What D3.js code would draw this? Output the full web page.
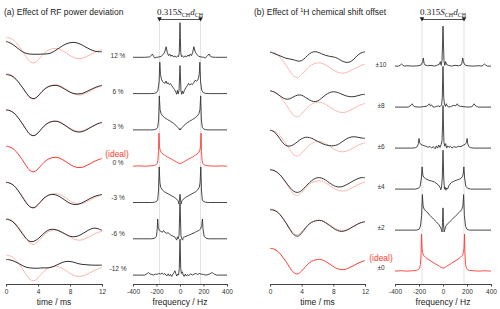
<!DOCTYPE html>
<html><head><meta charset="utf-8">
<script src="https://cdn.jsdelivr.net/npm/d3@7"></script>
<style>body{margin:0;background:#fff}svg{display:block;font-family:"Liberation Sans",Arial,sans-serif}</style>
</head><body><svg id="c" width="500" height="309"></svg>
<script>
// ---------- data ----------
const timeMs = [0,0.5,1,1.5,2,2.5,3,3.5,4,4.5,5,5.5,6,6.5,7,7.5,8,8.5,9,9.5,10,10.5,11,11.5,12];
const timeTicks = [0,4,8,12];
const freqTicks = [-400,-200,0,200,400];
const couplingHz = 175;

const fidIdeal = [1.0,0.95,0.8,0.52,0.18,-0.2,-0.52,-0.6,-0.42,-0.14,0.1,0.24,0.3,0.29,0.18,0.03,-0.14,-0.27,-0.33,-0.32,-0.22,-0.1,0.04,0.15,0.23];
const fidRf12 = [0.75,0.65,0.5,0.3,0.12,0.0,-0.05,-0.06,-0.06,-0.05,-0.04,0.0,0.12,0.28,0.45,0.58,0.66,0.68,0.63,0.52,0.38,0.25,0.15,0.1,0.1];
const fidRf6 = [0.94,0.9,0.76,0.5,0.17,-0.18,-0.48,-0.56,-0.4,-0.12,0.1,0.22,0.26,0.24,0.13,-0.02,-0.16,-0.25,-0.27,-0.24,-0.14,-0.02,0.1,0.2,0.27];
const fidRf3 = [1.0,0.95,0.8,0.52,0.17,-0.21,-0.53,-0.61,-0.44,-0.15,0.09,0.24,0.29,0.27,0.15,-0.01,-0.18,-0.32,-0.38,-0.36,-0.26,-0.12,0.02,0.14,0.21];
const fidRfm3 = [1.02,0.96,0.8,0.5,0.13,-0.25,-0.52,-0.57,-0.38,-0.1,0.12,0.24,0.25,0.17,0.02,-0.15,-0.3,-0.37,-0.36,-0.27,-0.14,0.0,0.12,0.2,0.25];
const fidRfm6 = [0.98,0.92,0.75,0.45,0.1,-0.22,-0.42,-0.4,-0.25,-0.02,0.2,0.33,0.34,0.27,0.15,0.02,-0.09,-0.12,-0.07,0.05,0.2,0.34,0.42,0.38,0.28];
const fidRfm12 = [0.73,0.7,0.62,0.5,0.36,0.25,0.2,0.18,0.18,0.2,0.2,0.22,0.3,0.42,0.53,0.6,0.6,0.55,0.47,0.42,0.4,0.38,0.37,0.37,0.37];

const fidCs10 = [0.98,0.9,0.8,0.7,0.6,0.55,0.5,0.42,0.45,0.65,0.88,1.0,0.98,0.88,0.78,0.72,0.68,0.6,0.45,0.35,0.35,0.5,0.75,0.93,1.0];
const fidCs8 = [1.02,0.95,0.8,0.62,0.5,0.52,0.65,0.75,0.74,0.6,0.45,0.35,0.38,0.55,0.75,0.9,0.96,0.92,0.82,0.72,0.66,0.65,0.7,0.77,0.8];
const fidCs6 = [1.02,0.92,0.65,0.3,0.06,0.02,0.12,0.3,0.48,0.57,0.55,0.45,0.32,0.2,0.1,0.05,0.04,0.1,0.25,0.42,0.55,0.6,0.58,0.53,0.5];
const fidCs4 = [1.0,0.95,0.8,0.55,0.22,-0.1,-0.35,-0.42,-0.3,-0.05,0.2,0.4,0.5,0.48,0.36,0.18,0.02,-0.07,-0.07,0.02,0.15,0.3,0.42,0.5,0.5];
const fidCs2 = [0.96,0.92,0.78,0.5,0.14,-0.26,-0.6,-0.7,-0.5,-0.18,0.08,0.22,0.28,0.27,0.15,-0.02,-0.2,-0.34,-0.4,-0.36,-0.25,-0.1,0.04,0.15,0.2];

const specIdeal = [[-400,0],[-350,0.01],[-300,0],[-250,0.01],[-220,0.02],[-205,0.04],[-195,0.08],[-188,0.18],[-183,0.45],[-179,1.0],[-175,0.62],[-170,0.5],[-160,0.42],[-145,0.37],[-125,0.32],[-100,0.27],[-75,0.22],[-50,0.17],[-30,0.13],[-15,0.1],[0,0.08],[15,0.1],[30,0.13],[50,0.17],[75,0.22],[100,0.27],[125,0.32],[145,0.37],[160,0.42],[170,0.5],[175,0.62],[179,1.0],[183,0.45],[188,0.18],[195,0.08],[205,0.04],[220,0.02],[250,0.01],[300,0],[350,0.01],[400,0]];
const specRf12 = [[-400,0],[-300,0],[-260,0.01],[-245,0.05],[-235,0.1],[-225,0.03],[-215,-0.02],[-200,0],[-180,0.01],[-160,0.03],[-145,0.08],[-130,0.16],[-118,0.32],[-108,0.15],[-98,0.05],[-88,0.1],[-78,0.03],[-68,0.07],[-55,0.01],[-42,0.04],[-30,0.0],[-20,0.04],[-12,0.02],[-6,0.15],[-3,0.6],[0,1.05],[3,0.6],[6,0.15],[12,0.02],[20,0.05],[30,0.0],[42,0.04],[55,0.01],[68,0.07],[78,0.03],[88,0.1],[98,0.05],[108,0.15],[118,0.32],[130,0.16],[145,0.08],[160,0.03],[180,0.01],[200,0],[215,-0.02],[230,0.03],[240,0.07],[248,0.1],[258,0.03],[270,0.01],[300,0],[400,0]];
const specRf6 = [[-400,0],[-240,0],[-215,0.01],[-200,0.03],[-188,0.1],[-178,0.35],[-172,0.95],[-166,0.58],[-158,0.44],[-148,0.36],[-138,0.33],[-128,0.31],[-118,0.38],[-110,0.3],[-100,0.33],[-90,0.27],[-80,0.3],[-70,0.24],[-58,0.18],[-46,0.12],[-36,0.05],[-28,-0.02],[-22,0.1],[-15,-0.01],[-8,0.1],[-4,0.5],[0,0.85],[4,0.5],[8,0.08],[15,-0.02],[21,0.08],[28,0.0],[38,0.1],[50,0.18],[62,0.24],[72,0.31],[82,0.26],[95,0.3],[105,0.27],[118,0.34],[128,0.4],[140,0.38],[150,0.4],[158,0.48],[164,0.6],[169,0.95],[175,0.35],[185,0.1],[198,0.03],[215,0.01],[240,0],[400,0]];
const specRf3 = [[-400,0],[-240,0],[-215,0.01],[-200,0.03],[-190,0.08],[-182,0.3],[-176,1.03],[-170,0.62],[-162,0.5],[-150,0.43],[-130,0.37],[-105,0.31],[-80,0.26],[-55,0.2],[-35,0.14],[-20,0.08],[-10,0.04],[-4,0.0],[0,0.04],[4,0.0],[10,0.04],[20,0.08],[35,0.14],[55,0.2],[80,0.26],[105,0.31],[130,0.37],[150,0.43],[162,0.5],[170,0.62],[176,1.03],[182,0.3],[190,0.08],[200,0.03],[215,0.01],[240,0],[400,0]];
const specRfm3 = [[-400,0],[-240,0],[-215,0.01],[-200,0.03],[-190,0.08],[-183,0.35],[-177,1.08],[-171,0.6],[-163,0.45],[-150,0.38],[-130,0.32],[-100,0.26],[-70,0.2],[-45,0.15],[-28,0.1],[-16,0.05],[-10,-0.04],[-5,0.05],[0,0.25],[5,0.05],[10,-0.04],[16,0.05],[28,0.1],[45,0.15],[70,0.2],[100,0.26],[130,0.32],[150,0.38],[163,0.45],[171,0.6],[177,1.08],[183,0.35],[190,0.08],[200,0.03],[215,0.01],[240,0],[400,0]];
const specRfm6 = [[-400,0],[-240,0],[-215,0.02],[-200,0.08],[-194,0.3],[-190,0.6],[-185,0.35],[-175,0.25],[-160,0.22],[-150,0.2],[-140,0.25],[-130,0.2],[-115,0.17],[-100,0.18],[-80,0.12],[-60,0.08],[-45,0.06],[-35,0.0],[-28,-0.04],[-22,0.06],[-15,0.0],[-8,0.1],[-4,0.6],[0,1.08],[4,0.6],[8,0.1],[15,0.0],[22,-0.04],[28,0.04],[40,0.06],[60,0.09],[80,0.12],[100,0.15],[120,0.18],[140,0.22],[160,0.25],[175,0.3],[185,0.4],[191,0.6],[196,0.3],[205,0.08],[220,0.02],[240,0],[400,0]];
const specRfm12 = [[-400,0],[-300,0],[-280,0.04],[-270,0.08],[-255,0.03],[-240,0.02],[-225,0.0],[-210,0.03],[-195,0.02],[-180,0.05],[-165,0.03],[-150,0.06],[-140,0.02],[-130,0.05],[-120,0.0],[-110,-0.02],[-100,0.04],[-90,-0.03],[-80,0.02],[-70,-0.04],[-60,0.03],[-50,0.08],[-43,0.13],[-36,0.05],[-28,-0.03],[-20,0.03],[-12,0.0],[-6,0.2],[-3,0.7],[0,1.09],[3,0.7],[6,0.2],[12,0.05],[20,0.1],[28,0.0],[35,-0.04],[45,0.03],[55,-0.03],[65,0.02],[75,-0.02],[90,0.04],[105,0.0],[120,0.03],[135,0.05],[150,0.02],[165,0.05],[180,0.03],[200,0.02],[220,0.0],[250,0.03],[265,0.06],[275,0.08],[290,0.03],[310,0],[400,0]];

const specCs10 = [[-400,0],[-370,0],[-355,0.03],[-345,0.06],[-335,0.02],[-320,0],[-300,0.01],[-250,0],[-200,0.01],[-180,0.04],[-170,0.12],[-164,0.22],[-158,0.08],[-150,0.03],[-130,0.01],[-100,0.02],[-70,0.0],[-45,0.03],[-30,0.05],[-22,0.12],[-15,0.02],[-8,0.15],[-4,0.6],[0,1.08],[4,0.6],[8,0.15],[15,0.02],[22,0.12],[30,0.04],[45,0.02],[70,0.0],[100,0.02],[130,0.01],[150,0.03],[158,0.08],[164,0.22],[170,0.12],[180,0.04],[200,0.01],[250,0],[300,0.01],[320,0],[335,0.02],[345,0.06],[355,0.03],[370,0],[400,0]];
const specCs8 = [[-400,0],[-290,0],[-275,0.03],[-265,0.06],[-256,0.09],[-248,0.04],[-235,0.01],[-200,0],[-170,0.01],[-140,0.02],[-125,0.05],[-114,0.09],[-105,0.03],[-95,0.06],[-85,0.01],[-70,0.0],[-55,0.02],[-40,0.03],[-25,0.01],[-12,0.06],[-6,0.25],[-3,0.7],[0,1.1],[3,0.7],[6,0.25],[12,0.08],[20,0.02],[28,0.09],[35,0.03],[50,0.0],[70,0.02],[90,0.05],[105,0.03],[119,0.09],[128,0.04],[145,0.02],[175,0.01],[210,0],[240,0.01],[250,0.04],[258,0.09],[266,0.05],[280,0.02],[295,0],[400,0]];
const specCs6 = [[-400,0],[-260,0],[-230,0.01],[-215,0.04],[-205,0.12],[-200,0.26],[-195,0.15],[-185,0.1],[-170,0.08],[-155,0.06],[-140,0.05],[-125,0.02],[-110,0.05],[-95,0.0],[-80,0.04],[-65,-0.02],[-55,0.06],[-45,0.0],[-35,0.08],[-25,0.02],[-15,0.1],[-8,0.2],[-4,0.6],[0,1.15],[4,0.6],[8,0.15],[15,0.05],[22,0.12],[30,0.0],[40,0.06],[50,0.02],[62,0.05],[75,0.0],[90,0.04],[110,0.02],[130,0.05],[150,0.04],[170,0.08],[185,0.1],[195,0.15],[201,0.26],[206,0.12],[215,0.04],[230,0.01],[260,0],[400,0]];
const specCs4 = [[-400,0],[-230,0],[-205,0.02],[-190,0.08],[-180,0.3],[-174,0.6],[-168,0.38],[-160,0.32],[-145,0.28],[-120,0.24],[-95,0.22],[-70,0.19],[-50,0.14],[-35,0.1],[-25,0.05],[-18,-0.02],[-12,0.06],[-6,0.3],[0,1.05],[6,0.3],[12,0.0],[18,0.05],[24,-0.03],[30,0.03],[38,0.0],[50,0.1],[70,0.18],[95,0.22],[120,0.25],[145,0.28],[160,0.33],[168,0.4],[174,0.6],[180,0.3],[190,0.08],[205,0.02],[230,0],[400,0]];
const specCs2 = [[-400,0],[-220,0],[-200,0.02],[-188,0.1],[-178,0.4],[-172,0.96],[-166,0.65],[-155,0.55],[-136,0.5],[-110,0.4],[-80,0.3],[-55,0.22],[-35,0.15],[-22,0.08],[-14,0.02],[-8,-0.05],[-4,0.2],[0,0.6],[4,0.2],[9,-0.05],[14,0.0],[22,0.1],[35,0.16],[55,0.22],[80,0.3],[110,0.4],[136,0.48],[155,0.55],[166,0.65],[172,0.96],[178,0.4],[188,0.1],[200,0.02],[220,0],[400,0]];

const rfLabels = ["12 %","6 %","3 %","0 %","-3 %","-6 %","-12 %"];
const csLabels = ["\u00b110","\u00b18","\u00b16","\u00b14","\u00b12","\u00b10"];

// ---------- layout ----------
const svg = d3.select("#c");
const C_BLACK = "#333", C_PINK = "#fbb8b2", C_RED = "#ff3b30", C_GRID = "#e2e2e2";
const axisY = 284;
const SANS = "'Liberation Sans',Arial,sans-serif", SERIF = "'Liberation Serif','Times New Roman',serif";

const rfRows = rfLabels.map((l,i)=>({label:l, ideal:i===3,
  fid:[fidRf12,fidRf6,fidRf3,fidIdeal,fidRfm3,fidRfm6,fidRfm12][i],
  spec:[specRf12,specRf6,specRf3,specIdeal,specRfm3,specRfm6,specRfm12][i],
  specBase:166.2+(i-3)*36.3, timeZero:166.2+(i-3)*36.3-4, labelY:56+i*35.5}));
const csRows = csLabels.map((l,k)=>({label:l, ideal:k===5,
  fid:[fidCs10,fidCs8,fidCs6,fidCs4,fidCs2,fidIdeal][k],
  spec:[specCs10,specCs8,specCs6,specCs4,specCs2,specIdeal][k],
  specBase:66.1+k*41, timeZero:67.8+k*39.3, labelY:65+k*40.6}));

function panel(cfg){
  const {rows, xT, xF, specUnit, timeUnit, labelX, idealX, idealY, title, titleX} = cfg;
  const g = svg.append("g");
  g.append("text").attr("x",titleX).attr("y",15).style("font-family",SANS).style("font-size","8.5px").attr("fill","#222").html(title);
  [-couplingHz, couplingHz].forEach(f=>{
    g.append("line").attr("x1",xF(f)).attr("x2",xF(f)).attr("y1",20).attr("y2",axisY)
      .attr("stroke",C_GRID).attr("stroke-width",1);
  });
  g.append("line").attr("x1",xF(-couplingHz)).attr("x2",xF(couplingHz)).attr("y1",19.5).attr("y2",19.5)
    .attr("stroke","#222").attr("stroke-width",0.8);
  [-couplingHz, couplingHz].forEach(f=>{
    const x = xF(f);
    g.append("path").attr("d",`M${x-2.3},17.3L${x+2.3},17.3L${x},21.5Z`).attr("fill","#222");
  });
  const lab = g.append("text").attr("x",xF(0)).attr("y",14.5).attr("text-anchor","middle")
    .style("font-family",SERIF).style("font-size","9px").attr("fill","#222");
  lab.append("tspan").text("0.315");
  lab.append("tspan").style("font-style","italic").text("S");
  lab.append("tspan").style("font-size","6px").attr("dy","2").text("CH");
  lab.append("tspan").style("font-style","italic").attr("dy","-2").text("d");
  lab.append("tspan").style("font-size","6px").attr("dy","2").text("CH");

  const tLine = (zero)=> d3.line().x((d,i)=>xT(timeMs[i])).y(d=>zero - d*timeUnit).curve(d3.curveCatmullRom);
  const sLine = (base)=> d3.line().x(d=>xF(d[0])).y(d=>base - d[1]*specUnit);

  rows.forEach(r=>{
    if(!r.ideal){
      g.append("path").attr("d",tLine(r.timeZero)(fidIdeal)).attr("fill","none").attr("stroke",C_PINK).attr("stroke-width",1);
    }
    g.append("path").attr("d",tLine(r.timeZero)(r.fid)).attr("fill","none")
      .attr("stroke",r.ideal?C_RED:C_BLACK).attr("stroke-width",1);
    g.append("path").attr("d",sLine(r.specBase)(r.spec)).attr("fill","none")
      .attr("stroke",r.ideal?C_RED:C_BLACK).attr("stroke-width",0.9).attr("stroke-linejoin","round");
    g.append("text").attr("x",labelX).attr("y",r.labelY+2.3).attr("text-anchor","middle")
      .style("font-size","6.5px").attr("fill","#333").text(r.label);
  });
  g.append("text").attr("x",idealX).attr("y",idealY+3).attr("text-anchor","middle")
    .style("font-size","8.5px").attr("fill",C_RED).text("(ideal)");

  const ax1 = g.append("g").attr("transform",`translate(0,${axisY})`)
    .call(d3.axisBottom(xT).tickValues(timeTicks).tickSize(2.5).tickSizeOuter(0).tickPadding(2.5).tickFormat(d=>String(d)));
  const ax2 = g.append("g").attr("transform",`translate(0,${axisY})`)
    .call(d3.axisBottom(xF).tickValues(freqTicks).tickSize(2.5).tickSizeOuter(0).tickPadding(2.5).tickFormat(d=>String(d)));
  [ax1,ax2].forEach(a=>{
    a.select(".domain").attr("stroke","#444");
    a.selectAll(".tick line").attr("stroke","#444");
    a.selectAll("text").style("font-size","6.5px").attr("fill","#333").style("font-family",SANS);
  });
  g.append("text").attr("x",(xT.range()[0]+xT.range()[1])/2).attr("y",305).attr("text-anchor","middle")
    .style("font-size","8.5px").attr("fill","#222").text("time / ms");
  g.append("text").attr("x",xF(0)).attr("y",305).attr("text-anchor","middle")
    .style("font-size","8.5px").attr("fill","#222").text("frequency / Hz");
}

panel({rows:rfRows, xT:d3.scaleLinear([0,12],[6,102]), xF:d3.scaleLinear([-400,400],[133,227]),
  specUnit:33, timeUnit:16, labelX:118, idealX:117, idealY:154,
  title:"(a) Effect of RF power deviation", titleX:4});
panel({rows:csRows, xT:d3.scaleLinear([0,12],[270,365]), xF:d3.scaleLinear([-400,400],[395,491]),
  specUnit:37, timeUnit:16, labelX:381, idealX:381, idealY:258,
  title:"(b) Effect of <tspan font-size='5.5px' dy='-3'>1</tspan><tspan dy='3'>H chemical shift offset</tspan>", titleX:254});
</script></body></html>
